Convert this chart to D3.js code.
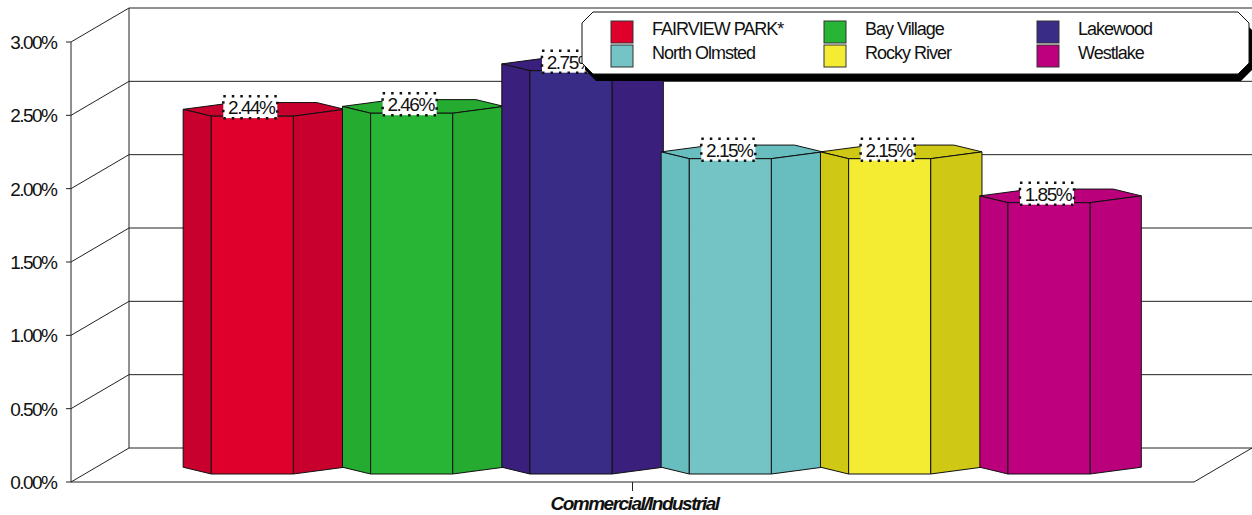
<!DOCTYPE html>
<html>
<head>
<meta charset="utf-8">
<script src="https://cdn.jsdelivr.net/npm/d3@7"></script>
<style>
  html, body { margin: 0; padding: 0; background: #fff; }
  svg { display: block; }
  text { font-family: "Liberation Sans", Arial, sans-serif; fill: #111; }
</style>
</head>
<body>
<svg id="chart" width="1252" height="515"></svg>
<script>
// ---- data ----
const categories = ["Commercial/Industrial"];
const seriesNames = ["FAIRVIEW PARK*", "Bay Village", "Lakewood", "North Olmsted", "Rocky River", "Westlake"];
const seriesValues = [2.44, 2.46, 2.75, 2.15, 2.15, 1.85];
const yTicks = [0, 0.5, 1, 1.5, 2, 2.5, 3];
const frontColors = ["#e0002c", "#28b435", "#392c86", "#74c4c6", "#f4ec32", "#bf007e"];
const sideColors  = ["#c8002e", "#24ab30", "#3b1f7c", "#68bdbf", "#cfc916", "#bb007b"];

// ---- layout ----
const DX = 58, DY = 34;            // oblique depth offset of the back wall
const svg = d3.select("#chart");

const y = d3.scaleLinear().domain([0, 3]).range([482, 42]);
const x0 = d3.scaleBand().domain(categories).range([71, 1194]);
const xs = d3.scaleBand().domain(seriesNames)
  .range([x0(categories[0]) + 88, x0(categories[0]) + x0.bandwidth() - 79]);

// project a point (horizontal X, value v, depth z in 0..1)
const P = (X, v, z) => [X + z * DX, y(v) - z * DY];
const pts = arr => arr.map(p => p.join(",")).join(" ");

const fmt = v => d3.format(".2f")(v) + "%";

// ---- walls & floor ----
const g = svg.append("g");
const line = (a, b, w = 1, c = "#222") =>
  g.append("line").attr("x1", a[0]).attr("y1", a[1]).attr("x2", b[0]).attr("y2", b[1])
   .attr("stroke", c).attr("stroke-width", w);

const xL = 71, xR = 1194;
// back wall grid lines
yTicks.forEach(t => line(P(xL, t, 1), P(xR + 1, t, 1)));
// side wall diagonals
yTicks.forEach(t => line(P(xL, t, 0), P(xL, t, 1)));
// back-left wall edge
line(P(xL, 0, 1), P(xL, 3, 1));
// floor front edge and right diagonal
line(P(xL, 0, 0), P(xR, 0, 0));
line(P(xR, 0, 0), P(xR, 0, 1));
// front value axis
line(P(xL, 0, 0), P(xL, 3, 0));
yTicks.forEach(t => line([xL - 5, y(t)], [xL, y(t)]));
// category tick
const cx0 = x0(categories[0]) + x0.bandwidth() / 2;
line([cx0, y(0)], [cx0, y(0) + 9]);

// y tick labels
g.selectAll("text.ytick").data(yTicks).join("text")
  .attr("class", "ytick")
  .attr("x", 56.5).attr("y", d => y(d)).attr("dy", "0.36em")
  .attr("text-anchor", "end")
  .style("font-size", "19px").style("letter-spacing", "-1.5px")
  .text(d => d3.format(".2f")(d) + "%");

// category label
g.append("text")
  .attr("x", cx0 + 2).attr("y", 510)
  .attr("text-anchor", "middle")
  .style("font-size", "19px").style("font-weight", "bold").style("font-style", "italic")
  .style("letter-spacing", "-1.5px")
  .text(categories[0]);

// ---- hexagonal prism bars ----
const zf = 0.235, zh = 0.2;        // depth of front edge and step to side vertices
const hf = 41, hs = 39.75;         // half front width, extra side width

const bars = svg.append("g");
seriesNames.forEach((name, i) => {
  const v = seriesValues[i];
  const c = xs(name) + xs.bandwidth() / 2;
  const FLx = c - hf, FRx = c + hf, OLx = c - hf - hs, ORx = c + hf + hs;
  const bg = bars.append("g").attr("stroke", "#111").attr("stroke-width", 1).attr("stroke-linejoin", "round");
  // top cap
  bg.append("polygon").attr("fill", sideColors[i]).attr("points", pts([
    P(OLx, v, zf + zh), P(FLx, v, zf), P(FRx, v, zf), P(ORx, v, zf + zh),
    P(FRx, v, zf + 2 * zh), P(FLx, v, zf + 2 * zh)
  ]));
  // left face
  bg.append("polygon").attr("fill", sideColors[i]).attr("points", pts([
    P(OLx, 0, zf + zh), P(FLx, 0, zf), P(FLx, v, zf), P(OLx, v, zf + zh)
  ]));
  // right face
  bg.append("polygon").attr("fill", sideColors[i]).attr("points", pts([
    P(FRx, 0, zf), P(ORx, 0, zf + zh), P(ORx, v, zf + zh), P(FRx, v, zf)
  ]));
  // front face
  bg.append("polygon").attr("fill", frontColors[i]).attr("points", pts([
    P(FLx, 0, zf), P(FRx, 0, zf), P(FRx, v, zf), P(FLx, v, zf)
  ]));
});

// ---- value labels ----
const labels = svg.append("g");
seriesNames.forEach((name, i) => {
  const v = seriesValues[i];
  const c = xs(name) + xs.bandwidth() / 2;
  const top = P(c, v, zf);
  const lx = top[0] - 2, ly = top[1] - 9;
  labels.append("rect")
    .attr("x", lx - 27).attr("y", ly - 11).attr("width", 54).attr("height", 22)
    .attr("fill", "#fff").attr("stroke", "#111").attr("stroke-width", 2.5)
    .attr("stroke-dasharray", "2.5 6");
  labels.append("text")
    .attr("x", lx + 1).attr("y", ly).attr("dy", "0.36em")
    .attr("text-anchor", "middle")
    .style("font-size", "19px").style("letter-spacing", "-1.5px")
    .text(fmt(v));
});

// ---- legend ----
const lg = svg.append("g");
const bx1 = 582, bx2 = 1249, by1 = 12, by2 = 74, ch = 11;
const box = [[bx1 + ch, by1], [bx2 - ch, by1], [bx2, by1 + ch], [bx2, by2 - ch],
             [bx2 - ch, by2], [bx1 + ch, by2], [bx1, by2 - ch], [bx1, by1 + ch]];
lg.append("polygon").attr("points", pts(box.map(p => [p[0] + 3, p[1] + 7]))).attr("fill", "#000");
lg.append("polygon").attr("points", pts(box)).attr("fill", "#fff").attr("stroke", "#111").attr("stroke-width", 1);

seriesNames.forEach((name, i) => {
  const col = i % 3, row = Math.floor(i / 3);
  const sx = 611 + col * 213, sy = 21 + row * 24;
  lg.append("rect").attr("x", sx).attr("y", sy).attr("width", 22).attr("height", 22)
    .attr("fill", frontColors[i]).attr("stroke", "#333").attr("stroke-width", 1);
  lg.append("text").attr("x", sx + 41).attr("y", sy + 8).attr("dy", "0.36em")
    .style("font-size", "18px").style("letter-spacing", "-1px")
    .text(name);
});
</script>
</body>
</html>
